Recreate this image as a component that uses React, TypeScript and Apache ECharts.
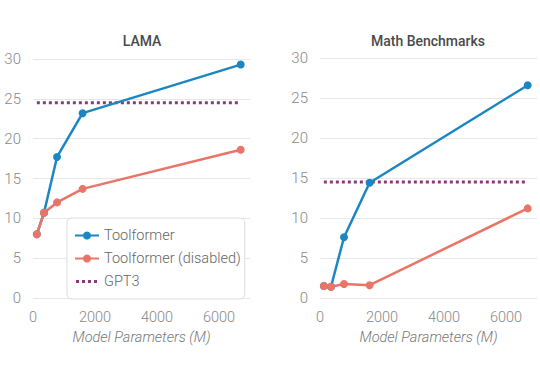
import React, { useEffect, useRef } from "react";
import * as echarts from "echarts";

const modelSizes = [124, 355, 775, 1600, 6700];
const lamaToolformer = [8.0, 10.7, 17.7, 23.2, 29.3];
const lamaDisabled = [8.0, 10.7, 12.0, 13.7, 18.6];
const lamaGPT3 = 24.5;
const mathToolformer = [1.5, 1.4, 7.6, 14.4, 26.6];
const mathDisabled = [1.5, 1.4, 1.75, 1.6, 11.2];
const mathGPT3 = 14.5;
const titles = ["LAMA", "Math Benchmarks"];
const xName = "Model Parameters (M)";

const BLUE = "#1b87c2";
const RED = "#ea7468";
const PURPLE = "#8a3a78";
const FONT = "Roboto";

const pairs = (ys: number[]) => modelSizes.map((x, i) => [x, ys[i]]);
const flat = (y: number) => [
  [modelSizes[0], y],
  [modelSizes[modelSizes.length - 1], y],
];

const dottedIcon =
  "path://M0,0L0.01,0L0,0.01Z M24,10L23.99,10L24,9.99Z " +
  "M1,3.6h3v3h-3z M7,3.6h3v3h-3z M13,3.6h3v3h-3z M19,3.6h3v3h-3z";

export default function App() {
  const ref = useRef<HTMLDivElement>(null);
  useEffect(() => {
    const chart = echarts.init(ref.current!, null, { renderer: "svg" });
    const xAxis = (gridIndex: number) => ({
      type: "value",
      gridIndex,
      min: 0,
      max: 7000,
      interval: 2000,
      name: xName,
      nameLocation: "middle",
      nameGap: 31,
      nameTextStyle: {
        color: "#777",
        fontSize: 14.5,
        fontStyle: "italic",
        fontWeight: 300,
        fontFamily: FONT,
      },
      axisLine: { show: false },
      axisTick: { show: false },
      splitLine: { show: false },
      axisLabel: {
        color: "#888",
        fontSize: 14.5,
        fontWeight: 300,
        fontFamily: FONT,
        margin: 12,
        formatter: (v: number) => (v === 7000 ? "" : String(v)),
      },
    });
    const yAxis = (gridIndex: number) => ({
      type: "value",
      gridIndex,
      min: 0,
      max: 30,
      interval: 5,
      axisLine: { show: false },
      axisTick: { show: false },
      splitLine: { lineStyle: { color: "#e6e6e6", width: 1 } },
      axisLabel: {
        color: "#888",
        fontSize: 15,
        fontWeight: 300,
        fontFamily: FONT,
        margin: 12,
      },
    });
    const lineSeries = (name: string, data: number[][], color: string, idx: number) => ({
      name,
      type: "line",
      xAxisIndex: idx,
      yAxisIndex: idx,
      data,
      symbol: "circle",
      symbolSize: 8,
      itemStyle: { color },
      lineStyle: { color, width: 2.5 },
    });
    const gptSeries = (data: number[][], idx: number) => ({
      name: "GPT3",
      type: "line",
      xAxisIndex: idx,
      yAxisIndex: idx,
      data,
      symbol: "none",
      itemStyle: { color: PURPLE },
      lineStyle: { color: PURPLE, width: 3, type: [3, 3] },
      z: 1,
    });
    const titleStyle = {
      color: "#4a4a4a",
      fontSize: 14,
      fontWeight: 500,
      fontFamily: FONT,
    };
    chart.setOption({
      animation: false,
      title: [
        { text: titles[0], left: 137, top: 29, textAlign: "center", textStyle: titleStyle },
        { text: titles[1], left: 423, top: 29, textAlign: "center", textStyle: titleStyle },
      ],
      legend: {
        orient: "vertical",
        left: 67,
        top: 218,
        padding: [10, 4, 10, 7],
        itemGap: 8,
        itemWidth: 24,
        itemHeight: 10,
        backgroundColor: "#fff",
        borderColor: "#dcdcdc",
        borderWidth: 1,
        borderRadius: 5,
        textStyle: { color: "#666", fontSize: 14.5, fontWeight: 300, fontFamily: FONT },
        data: [
          { name: "Toolformer" },
          { name: "Toolformer (disabled)" },
          { name: "GPT3", icon: dottedIcon, itemStyle: { color: PURPLE } },
        ],
        z: 10,
      },
      grid: [
        { left: 33, right: 290, top: 59, bottom: 74, outerBoundsMode: "none" },
        { left: 320, right: 3, top: 58, bottom: 74, outerBoundsMode: "none" },
      ],
      xAxis: [xAxis(0), xAxis(1)],
      yAxis: [yAxis(0), yAxis(1)],
      series: [
        gptSeries(flat(lamaGPT3), 0),
        lineSeries("Toolformer", pairs(lamaToolformer), BLUE, 0),
        lineSeries("Toolformer (disabled)", pairs(lamaDisabled), RED, 0),
        gptSeries(flat(mathGPT3), 1),
        lineSeries("Toolformer", pairs(mathToolformer), BLUE, 1),
        lineSeries("Toolformer (disabled)", pairs(mathDisabled), RED, 1),
      ],
    });
    return () => chart.dispose();
  }, []);
  return (
    <div
      ref={ref}
      style={{ position: "absolute", left: 0, top: 0, width: 540, height: 372 }}
    />
  );
}
